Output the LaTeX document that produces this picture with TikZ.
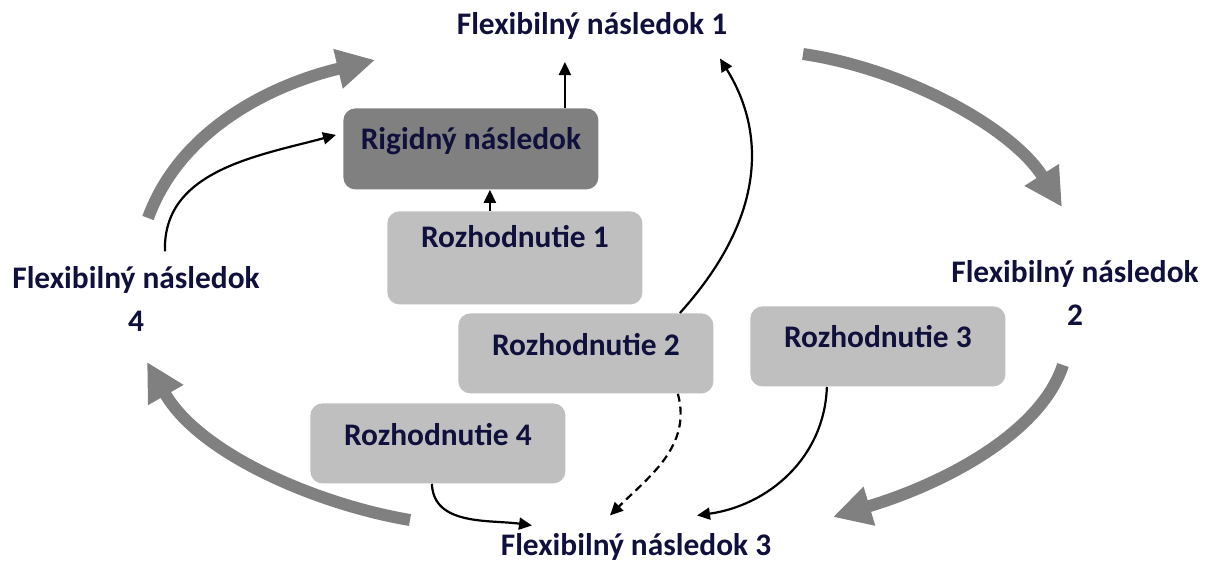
\documentclass[tikz,border=0pt]{standalone}
\usepackage{fontspec}
\setmainfont{Carlito}
\usetikzlibrary{arrows.meta}

\definecolor{navy}{HTML}{10103C}
\definecolor{boxdark}{HTML}{808080}
\definecolor{boxlight}{HTML}{BFBFBF}
\definecolor{cyclegray}{HTML}{808080}

\begin{document}
\begin{tikzpicture}[x=0.5pt,y=-0.5pt,
	flexlabel/.style={text=navy,font=\fontsize{15.7}{21.5}\selectfont\bfseries,align=center},
	decision/.style={rounded corners=6pt,fill=boxlight,text=navy,font=\fontsize{15.7}{19}\selectfont\bfseries,
		anchor=north west,minimum width=127.5pt,inner xsep=0pt,inner ysep=0pt,text height=21pt,text depth=19pt},
	cyclearrow/.style={line width=6pt,color=cyclegray,-{Triangle[width=19pt,length=19pt]}},
	linkarrow/.style={line width=1.1pt,-{Triangle[length=6.5pt,width=6pt]}}]
	\useasboundingbox (0,0) rectangle (1211,563);

	% the four flexible outcomes
	\node[flexlabel] (f1) at (592,26) {Flexibilný následok 1};
	\node[flexlabel] (f2) at (1075,293) {Flexibilný následok\\2};
	\node[flexlabel] (f3) at (636,547) {Flexibilný následok 3};
	\node[flexlabel] (f4) at (136,299) {Flexibilný následok\\4};

	% big grey cycle
	\coordinate (c4a) at (148,218);  \coordinate (c4b) at (375,60);
	\coordinate (c1a) at (803,54);   \coordinate (c1b) at (1062,207);
	\coordinate (c2a) at (1063,365); \coordinate (c2b) at (833,517);
	\coordinate (c3a) at (410,520);  \coordinate (c3b) at (147,362);
	\draw[cyclearrow] (c4a) .. controls (180,130) and (270,85) .. (c4b);
	\draw[cyclearrow] (c1a) .. controls (900,68) and (1010,125) .. (c1b);
	\draw[cyclearrow] (c2a) .. controls (1040,435) and (940,485) .. (c2b);
	\draw[cyclearrow] (c3a) .. controls (320,505) and (200,455) .. (c3b);

	% boxes
	\node[decision,fill=boxdark,text height=20.5pt,text depth=20pt] (rigid) at (343,108) {Rigidný následok};
	\node[decision,text height=18pt,text depth=28.5pt] (r1) at (387,211) {Rozhodnutie 1};
	\node[decision] (r2) at (458,313) {Rozhodnutie 2};
	\node[decision,text height=20.5pt,text depth=19.5pt] (r3) at (750,306) {Rozhodnutie 3};
	\node[decision] (r4) at (310,403) {Rozhodnutie 4};

	% links
	\draw[linkarrow] ([xshift=-12.5pt]r1.north) -- ([xshift=-12.5pt]r1.north |- rigid.south);
	\draw[linkarrow] ([xshift=47pt]rigid.north) -- ++(0,-46);
	\draw[linkarrow] ([xshift=14.5pt,yshift=4pt]f4.north) to[out=92,in=195] ([xshift=-3.5pt,yshift=7pt]rigid.west);
	\draw[linkarrow] ([xshift=47pt]r2.north) to[out=48,in=-58,out looseness=1.45,in looseness=0.7] ([xshift=64pt,yshift=-6pt]f1.south);
	\draw[linkarrow,dash pattern=on 4pt off 2.5pt] ([xshift=46pt]r2.south) to[out=-75,in=45] ([xshift=-13pt,yshift=5.5pt]f3.north);
	\draw[linkarrow] ([xshift=-25.5pt]r3.south) to[out=-92,in=8] ([xshift=30.5pt,yshift=5.5pt]f3.north);
	\draw[linkarrow] ([xshift=-3pt]r4.south) to[out=-88,in=172] ([xshift=-52pt,yshift=0.5pt]f3.north);

\end{tikzpicture}
\end{document}
